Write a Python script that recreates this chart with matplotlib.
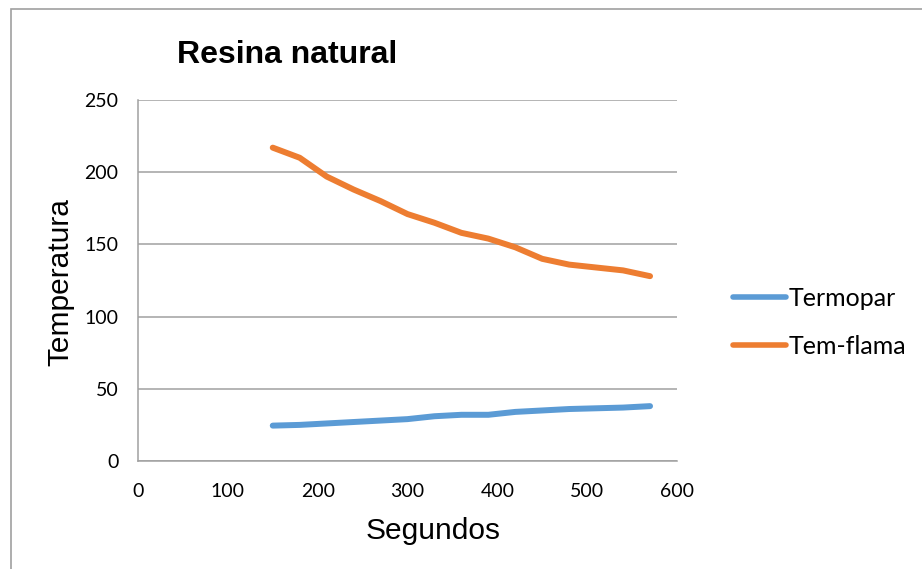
import matplotlib
matplotlib.use("Agg")
import matplotlib.pyplot as plt
from matplotlib.patches import Rectangle

# lecturas cada 30 s
segundos = [150, 180, 210, 240, 270, 300, 330, 360, 390, 420, 450, 480, 510, 540, 570]
termopar = [24.5, 25, 26, 27, 28, 29, 31, 32, 32, 34, 35, 36, 36.5, 37, 38]
tem_flama = [217, 210, 197, 188, 180, 171, 165, 158, 154, 148, 140, 136, 134, 132, 128]

x_ticks = [0, 100, 200, 300, 400, 500, 600]
y_ticks = [0, 50, 100, 150, 200, 250]

W, H = 922, 569
fig = plt.figure(figsize=(W / 100, H / 100), dpi=100)
ax = fig.add_axes([138 / W, 1 - 461 / H, 539 / W, 361 / H])

# marco exterior del grafico
fig.patches.append(Rectangle((11 / W, -0.05), 1.05, 1.05 - 9 / H,
                             transform=fig.transFigure, fill=False,
                             edgecolor="#a0a0a0", linewidth=1.2))

ax.plot(segundos, termopar, color="#5B9BD5", linewidth=4.3,
        solid_capstyle="round", solid_joinstyle="round", label="Termopar")
ax.plot(segundos, tem_flama, color="#ED7D31", linewidth=4.3,
        solid_capstyle="round", solid_joinstyle="round", label="Tem-flama")

ax.set_xlim(0, 600)
ax.set_ylim(0, 250)
ax.set_xticks(x_ticks)
ax.set_yticks(y_ticks)
ax.tick_params(length=0, labelsize=14)
ax.tick_params(axis="x", pad=15.5)
ax.tick_params(axis="y", pad=14)
for lbl in ax.get_xticklabels() + ax.get_yticklabels():
    lbl.set_family(["Lato", "DejaVu Sans"])

ax.grid(axis="y", color="#a0a0a0", linewidth=1.1)
ax.set_axisbelow(True)
for side in ["top", "right"]:
    ax.spines[side].set_visible(False)
for side in ["left", "bottom"]:
    ax.spines[side].set_color("#a0a0a0")
    ax.spines[side].set_linewidth(1.1)

# titulos
fig.text(433 / W, 1 - 531 / H, "Segundos", fontsize=21.5, family="Liberation Sans",
         ha="center", va="center")
fig.text(60 / W, 1 - 282 / H, "Temperatura", fontsize=21.5, family="Liberation Sans",
         rotation=90, ha="center", va="center")
fig.text(287 / W, 1 - 55 / H, "Resina natural", fontsize=23, fontweight="bold",
         family="Liberation Sans", ha="center", va="center")

leg = ax.legend(loc="center left", bbox_to_anchor=(733 / W, 1 - 322.5 / H),
                bbox_transform=fig.transFigure, frameon=False,
                prop={"family": "Lato", "size": 18}, handlelength=2.1,
                handletextpad=0.12, labelspacing=1.0, borderpad=0,
                borderaxespad=0)
for line in leg.get_lines():
    line.set_linewidth(4)

fig.savefig("out.png", dpi=100)
